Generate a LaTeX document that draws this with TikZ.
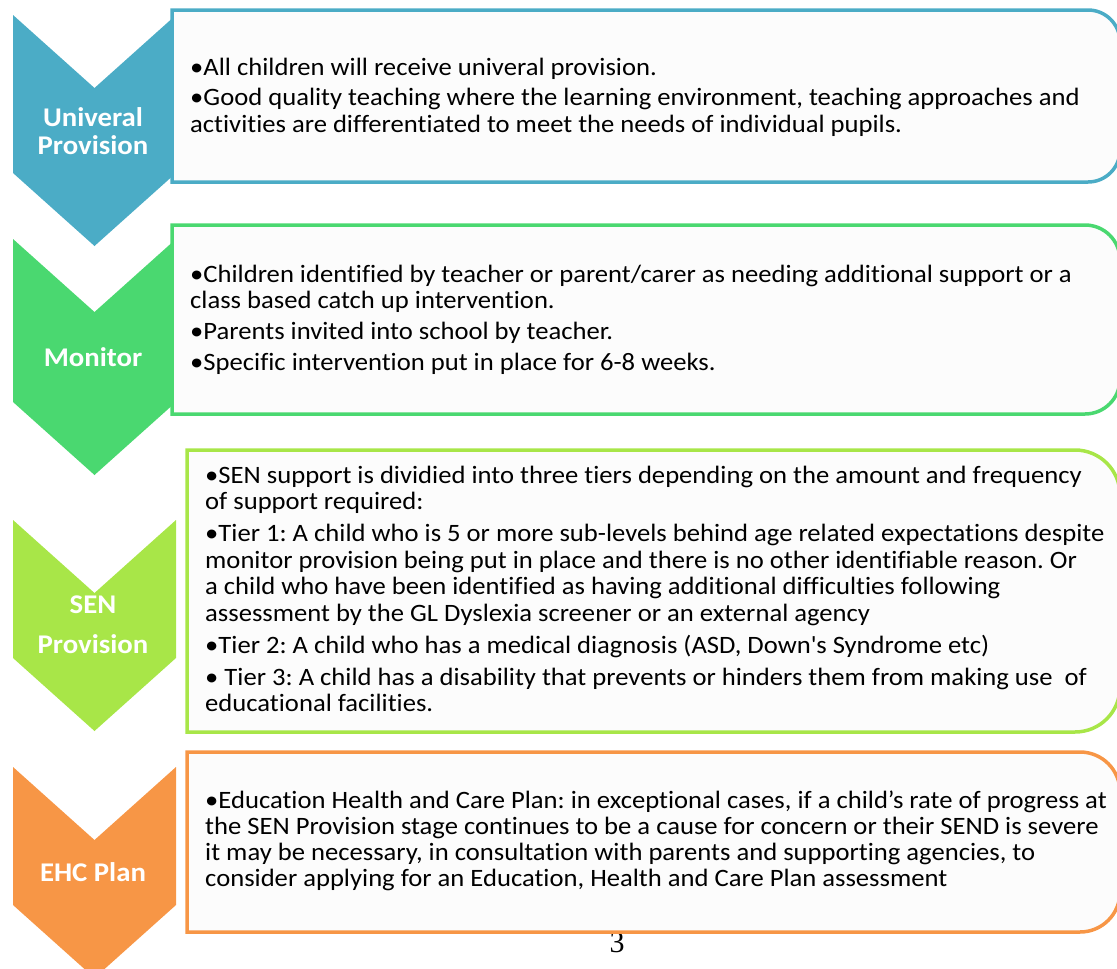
\documentclass[tikz,border=0pt]{standalone}
\usepackage{fontspec}
\setmainfont{Carlito}[FakeStretch=1.065, Ligatures={TeX,NoCommon}]
\newfontfamily\pagefont{Liberation Serif}
\definecolor{provblue}{RGB}{75,172,198}
\definecolor{provgreen}{RGB}{74,216,112}
\definecolor{senlime}{RGB}{168,230,72}
\definecolor{ehcorange}{RGB}{247,150,70}
\definecolor{boxfill}{RGB}{252,252,252}
\frenchspacing
\newcommand\bul{\par\setbox0\hbox{\textbullet}\hangindent=\wd0\hangafter=1\noindent\textbullet}
\newcommand\stagepar[2]{\parbox[t]{1000pt}{\raggedright\setlength\parskip{#1}#2}}
\tikzset{
  stagelabel/.style={text=white, font=\bfseries\fontsize{27}{28}\selectfont, align=center},
  stagetext/.style={anchor=base west, inner sep=0pt, font=\fontsize{25}{26}\selectfont},
  stageframe/.style={line width=3.5pt, fill=boxfill},
}
\begin{document}
\begin{tikzpicture}[x=1pt, y=-1pt]
    \useasboundingbox (0,0) rectangle (1117,969);
    \clip (0,0) rectangle (1117,969);

    %chevrons
    \foreach \t/\b/\col in {15/158/provblue, 239/163/provgreen, 520/138/senlime, 767/138/ehcorange} {
      \fill[\col] (13,\t) -- (94.5,\t+73) -- (176,\t) -- (176,\t+\b) -- (94.5,\t+\b+73) -- (13,\t+\b) -- cycle;
    }
    \node[stagelabel] (univlabel) at (93,131) {Univeral\\Provision};
    \node[stagelabel] (monlabel) at (93,357) {Monitor};
    \node[stagelabel] (senlabel) at (93,625) {SEN\\[12pt]Provision};
    \node[stagelabel] (ehclabel) at (93,872) {EHC Plan};

    \node[font=\pagefont\fontsize{30}{30}\selectfont, anchor=base] (pagenum) at (617,952) {3};

    %boxes, rounded on the right only
    \foreach \xa/\ya/\yb/\r/\col in {172/10/182/32/provblue, 172/225/414/35/provgreen, 187/450/732/45/senlime, 187/752/932/40/ehcorange} {
      \draw[stageframe, draw=\col] (\xa,\ya) -- (1120-\r,\ya) arc[start angle=-90, end angle=0, radius=\r]
        -- (1120,\yb-\r) arc[start angle=0, end angle=90, radius=\r] -- (\xa,\yb) -- cycle;
    }

    \node[stagetext, font=\fontsize{25}{27}\selectfont] (univtext) at (190,75) {\stagepar{3pt}{%
      \bul All children will receive univeral provision.
      \bul Good quality teaching where the learning environment, teaching approaches and\\
      activities are differentiated to meet the needs of individual pupils.}};

    \node[stagetext] (montext) at (190,282) {\stagepar{5pt}{%
      \bul Children identified by teacher or parent/carer as needing additional support or a\\
      class based catch up intervention.
      \bul Parents invited into school by teacher.
      \bul Specific intervention put in place for 6-8 weeks.}};

    \node[stagetext, font=\fontsize{25}{26.5}\selectfont] (sentext) at (205,483) {\stagepar{5.5pt}{%
      \bul SEN support is dividied into three tiers depending on the amount and frequency\\
      of support required:
      \bul Tier 1: A child who is 5 or more sub-levels behind age related expectations despite\\
      monitor provision being put in place and there is no other identifiable reason. Or\\
      a child who have been identified as having additional difficulties following\\
      assessment by the GL Dyslexia screener or an external agency
      \bul Tier 2: A child who has a medical diagnosis (ASD, Down\textquotesingle s Syndrome etc)
      \bul\ Tier 3: A child has a disability that prevents or hinders them from making use\ \ of\\
      educational facilities.}};

    \node[stagetext] (ehctext) at (205,808) {\stagepar{0pt}{%
      \bul Education Health and Care Plan: in exceptional cases, if a child’s rate of progress at\\
      the SEN Provision stage continues to be a cause for concern or their SEND is severe\\
      it may be necessary, in consultation with parents and supporting agencies, to\\
      consider applying for an Education, Health and Care Plan assessment}};
\end{tikzpicture}
\end{document}
